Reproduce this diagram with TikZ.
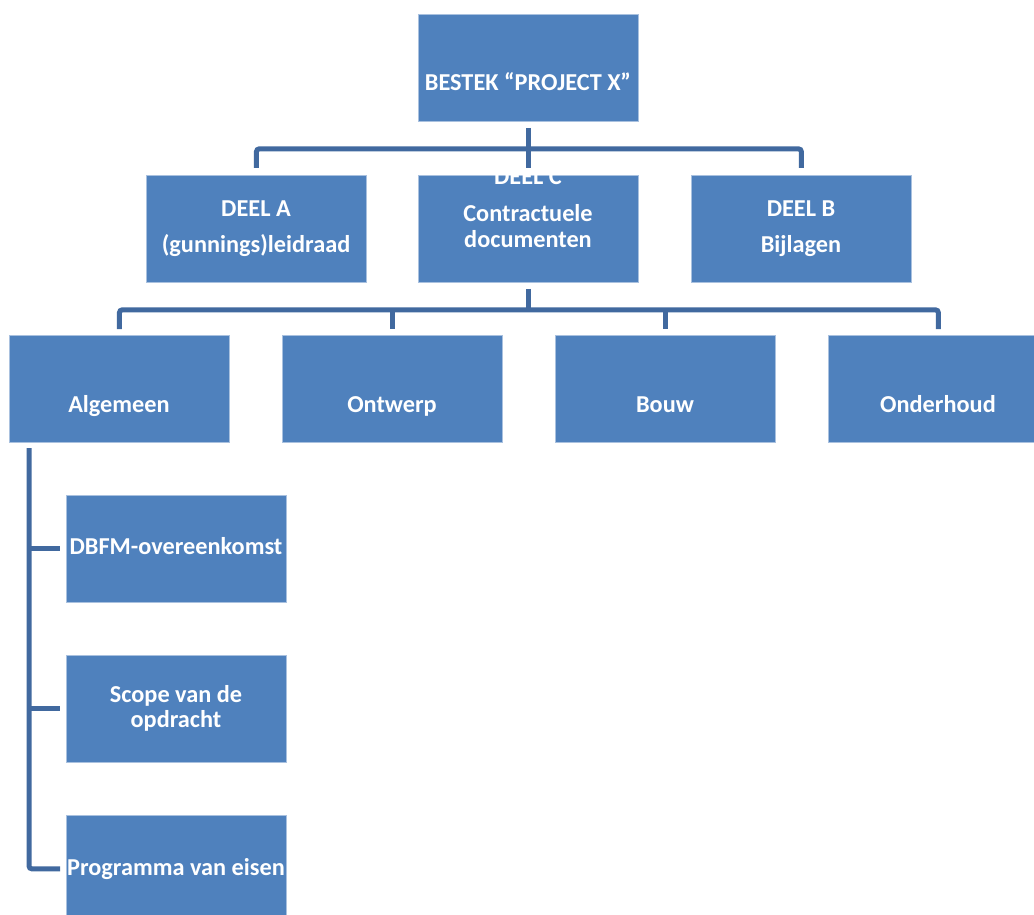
\documentclass[tikz,border=0pt]{standalone}
\usepackage{fontspec}
\setmainfont{Carlito}
\usetikzlibrary{calc}
\definecolor{boxblue}{HTML}{4F81BD}
\definecolor{lineblue}{HTML}{41699F}
\definecolor{edgeblue}{HTML}{A9C1DF}
\tikzset{
  box/.style={draw=edgeblue, line width=0.8pt, fill=boxblue, minimum width=220pt, minimum height=107pt, inner sep=0pt, anchor=north west},
  lbl/.style={anchor=base, text=white, inner sep=0pt, font=\bfseries\fontsize{24.3}{29}\selectfont},
  conn/.style={draw=lineblue, line width=5pt, rounded corners=3pt}
}
\begin{document}
\begin{tikzpicture}[x=1pt,y=-1pt]
\useasboundingbox[fill=white] (0,0) rectangle (1034,915);
% boxes
\node[box] (top) at (418,14) {};
\node[box] (A) at (146,175) {};
\node[box] (C) at (418,175) {};
\node[box] (B) at (691,175) {};
\node[box] (alg) at (9,335) {};
\node[box] (ont) at (282,335) {};
\node[box] (bouw) at (555,335) {};
\node[box] (ond) at (828,335) {};
\node[box] (dbfm) at (66,495) {};
\node[box] (scope) at (66,655) {};
\node[box] (pve) at (66,815) {};
% labels
\node[lbl] (ttop) at (528,91) {BESTEK “PROJECT X”};
\node[lbl] (tA1) at (256,216) {DEEL A};
\node[lbl] (tA2) at (256,252) {(gunnings)leidraad};
\node[lbl] (tC1) at (528,185) {DEEL C};
\node[lbl] (tC2) at (528,222) {Contractuele};
\node[lbl] (tC3) at (528,247) {documenten};
\node[lbl] (tB1) at (801,216) {DEEL B};
\node[lbl] (tB2) at (801,252) {Bijlagen};
\node[lbl] (talg) at (119,412) {Algemeen};
\node[lbl] (tont) at (392,412) {Ontwerp};
\node[lbl] (tbouw) at (665,412) {Bouw};
\node[lbl] (tond) at (938,412) {Onderhoud};
\node[lbl] (tdbfm) at (176,554) {DBFM-overeenkomst};
\node[lbl] (tsc1) at (176,702) {Scope van de};
\node[lbl] (tsc2) at (176,727) {opdracht};
\node[lbl] (tpve) at (176,875) {Programma van eisen};
% connectors level 1
\coordinate (h1) at ($(top.south)+(0,27)$);
\draw[conn] ($(A.north)+(0,-7)$) |- (h1) -| ($(B.north)+(0,-7)$);
\draw[conn] ($(top.south)+(0,6)$) -- ($(C.north)+(0,-7)$);
% connectors level 2
\coordinate (h2) at ($(C.south)+(0,27)$);
\draw[conn] ($(alg.north)+(0,-6)$) |- (h2) -| ($(ond.north)+(0,-6)$);
\draw[conn] ($(C.south)+(0,6)$) -- (h2);
\draw[conn] (h2 -| ont.north) -- ($(ont.north)+(0,-6)$);
\draw[conn] (h2 -| bouw.north) -- ($(bouw.north)+(0,-6)$);
% left tree
\coordinate (v0) at (29,448);
\draw[conn] (v0) |- ($(pve.west)+(-6,0)$);
\draw[conn] (v0 |- dbfm.west) -- ($(dbfm.west)+(-6,0)$);
\draw[conn] (v0 |- scope.west) -- ($(scope.west)+(-6,0)$);
\end{tikzpicture}
\end{document}
